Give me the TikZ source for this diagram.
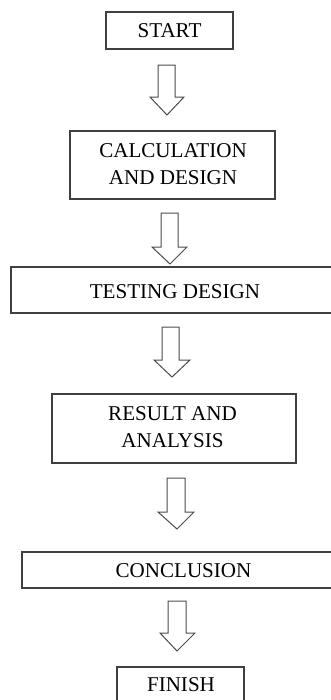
\documentclass[tikz,border=0pt]{standalone}
\usepackage{fontspec}
\setmainfont{Liberation Serif}
\begin{document}
\begin{tikzpicture}[x=0.75pt,y=-0.75pt,
  boxline/.style={draw=black!75,line width=0.8pt},
  blk/.style={draw=black!70,line width=0.75pt,fill=white,line join=miter},
  lbl/.style={inner sep=0pt,align=center,font=\fontsize{15.8}{20.3}\selectfont,text=black}]
\useasboundingbox (0,0) rectangle (331,700);
\clip (0,0) rectangle (331,700);
% boxes
\draw[boxline] (106,12) rectangle (233,49);
\node[lbl] (start) at (169.5,30.5) {START};
\draw[boxline] (70,131) rectangle (275,199);
\node[lbl] (calc) at (173,164) {CALCULATION\\AND DESIGN};
\draw[boxline] (11,267) rectangle (340,313);
\node[lbl] (test) at (175,292) {TESTING DESIGN};
\draw[boxline] (52,394) rectangle (296,463);
\node[lbl] (result) at (172.5,427) {RESULT AND\\ANALYSIS};
\draw[boxline] (22,552) rectangle (340,588);
\node[lbl] (concl) at (183.5,570.5) {CONCLUSION};
\draw[boxline] (117,667) rectangle (244,710);
\node[lbl] (finish) at (181,685) {FINISH};
% block arrows
\draw[blk] (158,65) -- (175,65) -- (175,97) -- (184,97) -- (167,115) -- (150,97) -- (158,97) -- cycle;
\draw[blk] (161,213) -- (178,213) -- (178,247) -- (187,247) -- (170,264) -- (152,247) -- (161,247) -- cycle;
\draw[blk] (162,327) -- (179,327) -- (179,360) -- (190,360) -- (172,377) -- (154,360) -- (162,360) -- cycle;
\draw[blk] (167,478) -- (185,478) -- (185,512) -- (194,512) -- (177,529) -- (158,512) -- (167,512) -- cycle;
\draw[blk] (168,601) -- (186,601) -- (186,633) -- (195,633) -- (177,651) -- (160,633) -- (168,633) -- cycle;
\end{tikzpicture}
\end{document}
